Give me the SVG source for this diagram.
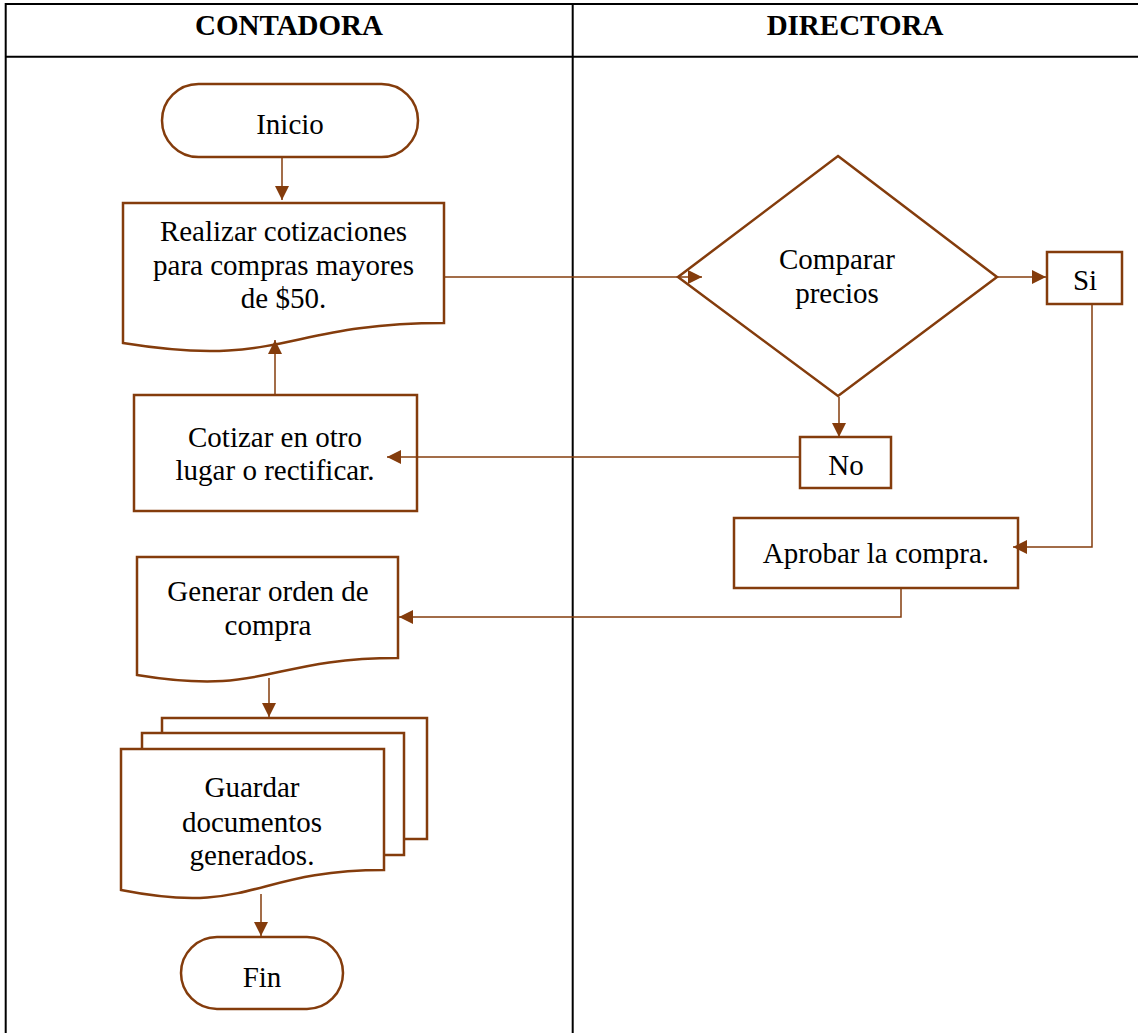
<svg xmlns="http://www.w3.org/2000/svg" width="1138" height="1033" viewBox="0 0 1138 1033">
  <style>
    .grid { stroke: #000; stroke-width: 2; fill: none; }
    .head { font-family: "Liberation Serif", "Times New Roman", serif; font-size: 29px; font-weight: bold; fill: #000; text-anchor: middle; }
    .shape { fill: #fff; stroke: #843C0C; stroke-width: 2.5; stroke-linejoin: miter; }
    .back { fill: none; stroke: #843C0C; stroke-width: 2.5; }
    .label { font-family: "Liberation Serif", "Times New Roman", serif; font-size: 29px; fill: #000; text-anchor: middle; }
    .conn { fill: none; stroke: #843C0C; stroke-width: 1.5; marker-end: url(#arrow); }
  </style>
  <defs>
    <marker id="arrow" markerUnits="userSpaceOnUse" markerWidth="14" markerHeight="14" viewBox="0 0 14 14" refX="14" refY="7" orient="auto">
      <path d="M0,0 L14,7 L0,14 z" fill="#843C0C"/>
    </marker>
  </defs>

  <rect width="1138" height="1033" fill="#fff"/>

  <!-- swimlane table -->
  <g id="table">
    <path class="grid" d="M5.7,1040 V4 H1145 M4.7,56.7 H1145 M572.7,4 V1040"/>
    <text class="head" x="289" y="35">CONTADORA</text>
    <text class="head" x="855" y="35">DIRECTORA</text>
  </g>

  <g id="inicio">
    <rect class="shape" x="162" y="84" width="256" height="73" rx="36.5" ry="36.5"/>
    <text class="label" x="290" y="134">Inicio</text>
  </g>

  <g id="realizar-cotizaciones">
    <path class="shape" d="M123,203 H444 V323 C283.5,323 283.5,369 123,343 Z"/>
    <text class="label" x="283.5" y="241">Realizar cotizaciones</text>
    <text class="label" x="283.5" y="274.5">para compras mayores</text>
    <text class="label" x="283.5" y="308">de $50.</text>
  </g>

  <g id="cotizar-otro">
    <rect class="shape" x="134" y="395" width="283" height="116"/>
    <text class="label" x="275" y="447">Cotizar en otro</text>
    <text class="label" x="275" y="480">lugar o rectificar.</text>
  </g>

  <g id="comparar-precios">
    <polygon class="shape" points="838,156 997,277 838,396 678,277"/>
    <text class="label" x="837" y="269">Comparar</text>
    <text class="label" x="837" y="303">precios</text>
  </g>

  <g id="si">
    <rect class="shape" x="1047" y="252" width="75" height="52"/>
    <text class="label" x="1085" y="290">Si</text>
  </g>

  <g id="no">
    <rect class="shape" x="800" y="437" width="91" height="51"/>
    <text class="label" x="846" y="475">No</text>
  </g>

  <g id="aprobar-compra">
    <rect class="shape" x="734" y="518" width="284" height="70"/>
    <text class="label" x="876" y="563">Aprobar la compra.</text>
  </g>

  <g id="generar-orden">
    <path class="shape" d="M137,557 H398 V658 C267.5,658 267.5,696.5 137,675 Z"/>
    <text class="label" x="268" y="601">Generar orden de</text>
    <text class="label" x="268" y="635">compra</text>
  </g>

  <g id="guardar-documentos">
    <path class="back" d="M162,733 V718 H427 V839 H404"/>
    <path class="back" d="M142,749 V733 H404 V855 H384"/>
    <path class="shape" d="M121,749 H384 V870 C252.5,870 252.5,916 121,890 Z"/>
    <text class="label" x="252" y="797">Guardar</text>
    <text class="label" x="252" y="832">documentos</text>
    <text class="label" x="252" y="865">generados.</text>
  </g>

  <g id="fin">
    <rect class="shape" x="181" y="937" width="162" height="72" rx="36" ry="36"/>
    <text class="label" x="262" y="987">Fin</text>
  </g>

  <!-- connectors, drawn last so heads that end inside a shape stay visible -->
  <g id="connectors">
    <path class="conn" d="M282,158 V200"/>
    <path class="conn" d="M445,277 H702"/>
    <path class="conn" d="M998,277 H1046"/>
    <path class="conn" d="M839,397 V437"/>
    <path class="conn" d="M799,457 H387"/>
    <path class="conn" d="M275,394 V340"/>
    <path class="conn" d="M1092,305 V547 H1013"/>
    <path class="conn" d="M901,589 V617 H399"/>
    <path class="conn" d="M269,678 V717"/>
    <path class="conn" d="M261,894 V936"/>
  </g>
</svg>
